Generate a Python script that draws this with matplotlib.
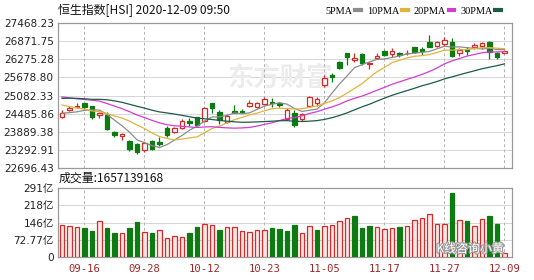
import matplotlib
matplotlib.use("Agg")
import matplotlib.pyplot as plt
import matplotlib.patheffects as pe
import numpy as np
import pandas as pd
from matplotlib.lines import Line2D

# ---- data -------------------------------------------------------------------
dates = ["09-11", "09-14", "09-15", "09-16", "09-17", "09-18", "09-21", "09-22", "09-23", "09-24",
         "09-25", "09-28", "09-29", "09-30", "10-05", "10-06", "10-07", "10-08", "10-09", "10-12",
         "10-14", "10-15", "10-16", "10-19", "10-20", "10-21", "10-22", "10-23", "10-27", "10-28",
         "10-29", "10-30", "11-02", "11-03", "11-04", "11-05", "11-06", "11-09", "11-10", "11-11",
         "11-12", "11-13", "11-16", "11-17", "11-18", "11-19", "11-20", "11-23", "11-24", "11-25",
         "11-26", "11-27", "11-30", "12-01", "12-02", "12-03", "12-04", "12-07", "12-08", "12-09"]

open_ = [24388, 24607, 24690, 24827, 24725, 24444, 24440, 23887, 23765, 23592,
         23483, 23297, 23601, 23569, 24027, 23896, 24020, 24257, 24368, 24250,
         24827, 24552, 24224, 24565, 24560, 24739, 24716, 24804, 24879, 24830,
         24303, 24519, 24303, 24739, 24827, 25427, 25738, 26190, 26466, 26262,
         26433, 26105, 26302, 26541, 26433, 26466, 26459, 26662, 26597, 26846,
         26705, 26770, 26846, 26466, 26597, 26662, 26705, 26846, 26466, 26485]
high = [24607, 24748, 24827, 24847, 24739, 24552, 24550, 23909, 23864, 23624,
        23536, 23536, 23624, 23732, 24083, 24041, 24303, 24335, 24388, 24716,
        24847, 24607, 24476, 24771, 24630, 24935, 24870, 25024, 24991, 24879,
        24663, 24607, 24499, 25066, 25043, 25754, 25810, 26200, 26485, 26459,
        26485, 26190, 26466, 26574, 26629, 26498, 26564, 26682, 26662, 27065,
        26878, 26990, 26957, 26629, 26682, 26793, 26846, 26878, 26518, 26557]
low = [24335, 24585, 24663, 24630, 24303, 24335, 23952, 23732, 23624, 23274,
       23166, 23241, 23297, 23428, 23732, 23864, 23975, 24083, 24083, 24224,
       24519, 24139, 24172, 24499, 24499, 24716, 24673, 24771, 24716, 24716,
       24280, 24060, 24257, 24696, 24739, 25361, 25535, 25951, 26082, 26180,
       26082, 25941, 26269, 26377, 26354, 26354, 26410, 26466, 26410, 26662,
       26682, 26705, 26354, 26377, 26410, 26597, 26597, 26269, 26269, 26475]
close = [24519, 24683, 24748, 24716, 24380, 24499, 23975, 23798, 23811, 23320,
         23241, 23516, 23320, 23493, 23788, 24008, 24247, 24191, 24116, 24657,
         24673, 24280, 24411, 24519, 24532, 24827, 24837, 24958, 24827, 24771,
         24607, 24116, 24476, 25024, 24958, 25656, 25689, 25974, 26328, 26318,
         26157, 26148, 26377, 26410, 26541, 26410, 26482, 26498, 26551, 26682,
         26846, 26901, 26377, 26574, 26551, 26737, 26793, 26518, 26334, 26541]

# turnover, 亿
volume = [135, 130, 126, 123, 111, 152, 123, 101, 99, 122,
          148, 105, 101, 113, 79, 89, 84, 101, 126, 139,
          135, 115, 126, 126, 109, 105, 113, 113, 122, 118,
          109, 135, 99, 129, 113, 129, 133, 152, 163, 173,
          121, 130, 125, 118, 122, 125, 129, 156, 163, 180,
          138, 138, 271, 155, 152, 129, 159, 173, 139, 16.57]

# estimated closes before the window, only needed to seed the moving averages
pre_close = [24458, 24946, 25102, 24930, 24532, 24377, 24891, 25244, 25231, 25183,
             25347, 25368, 25179, 24792, 25114, 25552, 25486, 25491, 25282, 25422,
             25177, 25185, 25121, 25007, 24695, 24590, 24624, 24469, 24313]

price_ticks = [22696.43, 23292.91, 23889.38, 24485.86, 25082.33,
               25678.80, 26275.28, 26871.75, 27468.23]
vol_ticks = [0, 72.77, 145.54, 218.31, 291.08]
vol_tick_labels = ["0", "72.77亿", "146亿", "218亿", "291亿"]
date_ticks = ["09-16", "09-28", "10-12", "10-23", "11-05", "11-17", "11-27", "12-09"]

ma_periods = [5, 10, 20, 30]
ma_names = ["5PMA", "10PMA", "20PMA", "30PMA"]

# ---- style ------------------------------------------------------------------
RED = "#d42a2a"
PINK = "#fde6e6"
GREEN = "#0e7a12"
FRAME = "#9a9a9a"
GRID = "#d6d6d6"
VGRID = "#b4b4b4"
TXT = "#222222"
DATE_TXT = "#a0282a"
MA_COLORS = ["#8c8c8c", "#e0b43c", "#d43cd0", "#1d5b4a"]

plt.rcParams["font.family"] = ["DejaVu Sans", "Noto Sans CJK SC"]

W, H = 534, 280
fig = plt.figure(figsize=(W / 100, H / 100), dpi=100)
fig.patch.set_facecolor("white")


def px_axes(left, top, right, bottom):
    return fig.add_axes([left / W, 1 - bottom / H, (right - left) / W, (bottom - top) / H])


ax = px_axes(58, 22.7, 512, 168.3)
axv = px_axes(58, 188.3, 512, 256.7)

n = len(close)
x = np.arange(n)
o = np.array(open_, float)
c = np.array(close, float)
hi = np.array(high, float)
lo = np.array(low, float)
rise = c >= o

full = pd.Series(pre_close + close, dtype=float)
prev_close = full.shift(1).iloc[len(pre_close):].to_numpy()
vol_up = c >= prev_close

# ---- price panel --------------------------------------------------------------
cand_col = [RED if r else GREEN for r in rise]
ax.vlines(x, lo, hi, colors=cand_col, lw=0.9, zorder=3)
body_lo = np.minimum(o, c)
body_h = np.maximum(np.abs(c - o), 10)
ax.bar(x, body_h, bottom=body_lo, width=0.66,
       facecolor=["white" if r else GREEN for r in rise],
       edgecolor=cand_col, lw=0.9, zorder=4)

for p, col in zip(ma_periods, MA_COLORS):
    ma = full.rolling(p).mean().iloc[len(pre_close):].to_numpy()
    ax.plot(x, ma, color=col, lw=0.9, zorder=5)

ax.text(0.49, 0.62, "东方财富", transform=ax.transAxes, fontsize=19, fontweight="bold",
        color="#ececec", ha="center", va="center", family=["Noto Sans CJK SC"], zorder=1)

# ---- volume panel -------------------------------------------------------------
axv.bar(x, volume, width=0.66,
        facecolor=[PINK if u else GREEN for u in vol_up],
        edgecolor=[RED if u else GREEN for u in vol_up], lw=0.9, zorder=3)

# ---- shared axis styling ------------------------------------------------------
tick_pos = [dates.index(d) for d in date_ticks]
for a in (ax, axv):
    a.set_xlim(-0.53, 60.0)
    for s in a.spines.values():
        s.set_color(FRAME)
        s.set_linewidth(0.9)
    a.tick_params(length=0, labelsize=7.6, colors=TXT, pad=3)
    a.set_xticks(tick_pos)
    for xp in tick_pos:
        a.axvline(xp, color=VGRID, lw=0.7, ls=(0, (3, 2.5)), zorder=1)
    a.yaxis.grid(True, color=GRID, lw=0.7, zorder=0)
    a.set_axisbelow(True)

ax.set_ylim(price_ticks[0], price_ticks[-1])
ax.set_yticks(price_ticks)
ax.set_yticklabels([f"{v:.2f}" for v in price_ticks])
ax.set_xticklabels([])

axv.set_ylim(vol_ticks[0], vol_ticks[-1])
axv.set_yticks(vol_ticks)
axv.set_yticklabels(vol_tick_labels)
axv.set_xticklabels(date_ticks, family="DejaVu Sans Mono", fontsize=7.6, color=DATE_TXT)
axv.tick_params(axis="x", pad=5)

# ---- header texts -----------------------------------------------------------
fig.text(58 / W, 1 - 10.5 / H, "恒生指数[HSI] 2020-12-09 09:50", fontsize=8.6,
         family=["Noto Sans CJK SC"], color="#111111", va="center", ha="left")
fig.text(59 / W, 1 - 178.5 / H, "成交量:1657139168", fontsize=8.6,
         family=["Noto Sans CJK SC"], color="#111111", va="center", ha="left")

handles = [Line2D([], [], color=col, lw=3) for col in MA_COLORS]
fig.legend(handles, ma_names, loc="center right", bbox_to_anchor=(501 / W, 1 - 11 / H),
           ncol=4, frameon=False, markerfirst=False, handlelength=0.55, handletextpad=0.3,
           columnspacing=0.55, borderpad=0, borderaxespad=0,
           prop={"family": "Liberation Serif", "size": 7.4})

fig.text(470 / W, 1 - 249 / H, "K线咨询小黄", fontsize=8.6, family=["Noto Sans CJK SC"],
         color="white", ha="center", va="center",
         path_effects=[pe.withStroke(linewidth=1.6, foreground="#9a9a9a")])

fig.savefig("out.png", dpi=100)
